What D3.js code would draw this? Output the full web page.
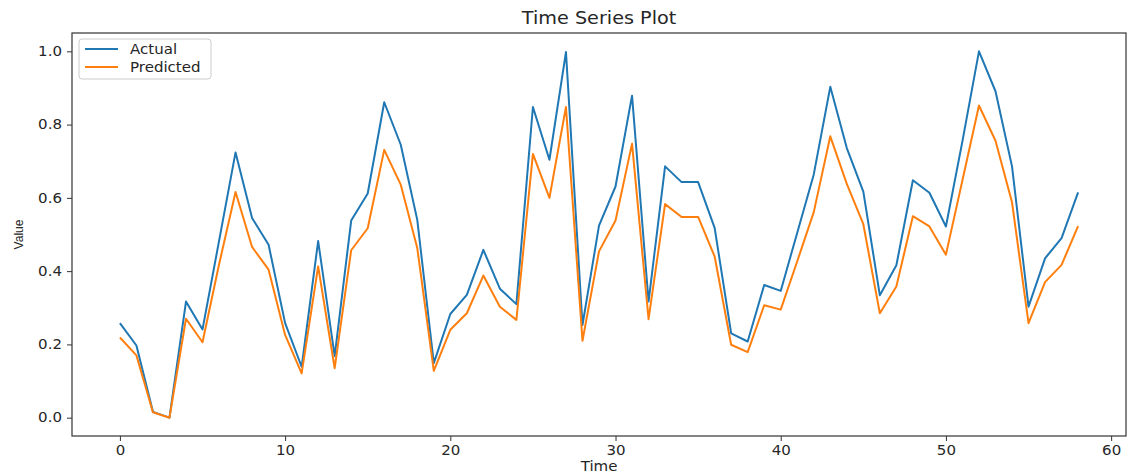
<!DOCTYPE html>
<html>
<head>
<meta charset="utf-8">
<script src="https://cdn.jsdelivr.net/npm/d3@7"></script>
<style>
  body { margin: 0; background: #fff; }
  #chart { width: 1131px; height: 475px; }
  text { font-family: "DejaVu Sans", sans-serif; fill: #262626; }
  .wide { transform-box: fill-box; }
</style>
</head>
<body>
<div id="chart"></div>
<script>

const actual = [0.258, 0.197, 0.016, 0.0, 0.317, 0.241, 0.482, 0.724, 0.545, 0.472,
    0.258, 0.139, 0.482, 0.168, 0.538, 0.612, 0.861, 0.745, 0.54, 0.149,
    0.283, 0.335, 0.458, 0.352, 0.31, 0.848, 0.704, 0.998, 0.253, 0.524,
    0.631, 0.879, 0.317, 0.686, 0.643, 0.643, 0.518, 0.23, 0.208, 0.362,
    0.346, 0.505, 0.664, 0.903, 0.736, 0.617, 0.334, 0.416, 0.648, 0.614,
    0.522, 0.755, 1.0, 0.891, 0.686, 0.303, 0.435, 0.49, 0.615];

const predicted = [0.219, 0.17, 0.015, 0.0, 0.27, 0.206, 0.418, 0.616, 0.466, 0.404,
    0.226, 0.121, 0.413, 0.135, 0.457, 0.517, 0.731, 0.636, 0.463, 0.128,
    0.24, 0.285, 0.388, 0.303, 0.267, 0.72, 0.6, 0.848, 0.21, 0.454,
    0.538, 0.748, 0.269, 0.583, 0.548, 0.548, 0.44, 0.199, 0.179, 0.307,
    0.295, 0.427, 0.561, 0.768, 0.638, 0.528, 0.285, 0.358, 0.55, 0.522,
    0.445, 0.648, 0.852, 0.756, 0.588, 0.258, 0.37, 0.417, 0.523];

const xTicks = [0, 10, 20, 30, 40, 50, 60];
const yTicks = [0.0, 0.2, 0.4, 0.6, 0.8, 1.0];
const seriesNames = ["Actual", "Predicted"];
const colors = ["#1f77b4", "#ff7f0e"];

const width = 1131;
const height = 475;
const margin = { left: 72, right: 5, top: 33, bottom: 39 };

// the reference text is a bit stretched sideways
const stretch = 1.13;

const svg = d3.select("#chart")
    .append("svg")
    .attr("width", width)
    .attr("height", height);

// matplotlib style 5% margins
const x = d3.scaleLinear()
    .domain([-2.9, 60.9])
    .range([margin.left, width - margin.right]);

const y = d3.scaleLinear()
    .domain([-0.05, 1.05])
    .range([height - margin.bottom, margin.top]);

const line = d3.line()
    .x(function (d, i) { return x(i) })
    .y(function (d) { return y(d) });

function widen(sel, origin) {
    sel.classed("wide", true)
        .style("transform-origin", origin)
        .style("transform", "scaleX(" + stretch + ")");
}

// axes
const xAxis = svg.append("g")
    .attr("transform", "translate(0," + (height - margin.bottom) + ")")
    .call(d3.axisBottom(x).tickValues(xTicks).tickFormat(d3.format("d")).tickSize(5).tickPadding(5));

const yAxis = svg.append("g")
    .attr("transform", "translate(" + margin.left + ",0)")
    .call(d3.axisLeft(y).tickValues(yTicks).tickFormat(d3.format(".1f")).tickSize(5).tickPadding(5));

svg.selectAll(".domain").remove();
svg.selectAll(".tick line").attr("stroke", "#333").attr("stroke-width", 1);
svg.selectAll(".tick text")
    .style("font-family", "DejaVu Sans")
    .style("font-size", "13.3px")
    .attr("fill", "#262626");
widen(xAxis.selectAll(".tick text"), "center");
widen(yAxis.selectAll(".tick text"), "right center");

// series
[actual, predicted].forEach(function (series, k) {
    svg.append("path")
        .datum(series)
        .attr("d", line)
        .attr("fill", "none")
        .attr("stroke", colors[k])
        .attr("stroke-width", 2)
        .attr("stroke-linejoin", "round");
});

// frame
svg.append("rect")
    .attr("x", margin.left)
    .attr("y", margin.top)
    .attr("width", width - margin.left - margin.right)
    .attr("height", height - margin.top - margin.bottom)
    .attr("fill", "none")
    .attr("stroke", "#333")
    .attr("stroke-width", 1.2);

// titles
svg.append("text")
    .attr("x", (margin.left + width - margin.right) / 2)
    .attr("y", 24)
    .attr("text-anchor", "middle")
    .style("font-size", "17px")
    .text("Time Series Plot")
    .call(widen, "center");

svg.append("text")
    .attr("x", (margin.left + width - margin.right) / 2)
    .attr("y", 471)
    .attr("text-anchor", "middle")
    .style("font-size", "13.3px")
    .text("Time")
    .call(widen, "center");

svg.append("text")
    .attr("transform", "translate(23," + ((margin.top + height - margin.bottom) / 2) + ") rotate(-90) scale(0.9,1)")
    .attr("text-anchor", "middle")
    .style("font-family", "Liberation Sans, sans-serif")
    .style("font-size", "13.5px")
    .text("Value");

// legend
const legend = svg.append("g").attr("transform", "translate(79,39)");

legend.append("rect")
    .attr("width", 132)
    .attr("height", 40)
    .attr("rx", 3)
    .attr("fill", "#fff")
    .attr("fill-opacity", 0.8)
    .attr("stroke", "#ccc");

seriesNames.forEach(function (name, k) {
    legend.append("line")
        .attr("x1", 6)
        .attr("x2", 39)
        .attr("y1", 10 + k * 18)
        .attr("y2", 10 + k * 18)
        .attr("stroke", colors[k])
        .attr("stroke-width", 2);
    legend.append("text")
        .attr("x", 51)
        .attr("y", 10 + k * 18)
        .attr("dy", "0.35em")
        .style("font-size", "13.3px")
        .text(name)
        .call(widen, "left center");
});

</script>
</body>
</html>
